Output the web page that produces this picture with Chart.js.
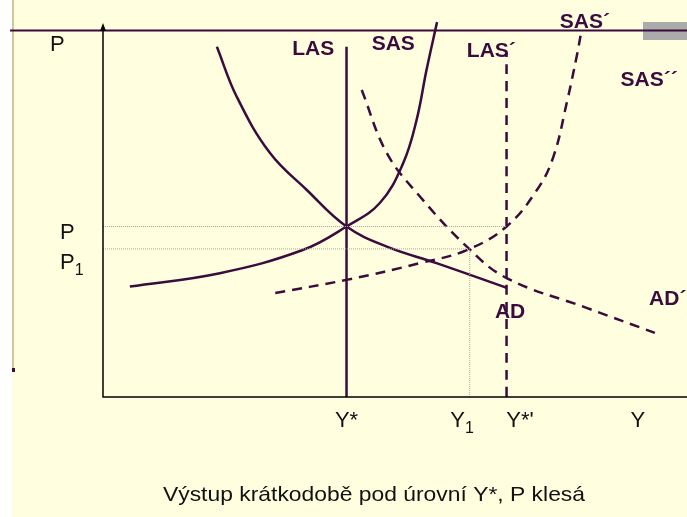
<!DOCTYPE html>
<html>
<head>
<meta charset="utf-8">
<script src="https://cdn.jsdelivr.net/npm/chart.js@4.4.1/dist/chart.umd.min.js"></script>
<style>
  html, body { margin: 0; padding: 0; background: #ffffff; }
  canvas { display: block; }
</style>
</head>
<body>
<canvas id="adasChart" width="687" height="517"></canvas>
<script>
// curves in arbitrary units (output Y on x, price level P on y, both 0..100)
const sasX = [4.6, 20.0, 34.2, 41.7, 47.4, 51.4, 53.7, 55.4, 57.2];
const sasP = [29.6, 33.2, 39.4, 45.7, 52.0, 62.7, 74.3, 87.7, 100.5];
const adX = [19.5, 22.9, 28.6, 34.9, 41.7, 48.6, 57.1, 69.1];
const adP = [93.9, 80.5, 65.4, 55.5, 45.7, 40.3, 35.9, 29.3];
const sas2X = [29.5, 41.7, 54.3, 62.3, 69.1, 74.3, 77.1, 79.4, 81.1, 81.8];
const sas2P = [27.9, 31.4, 35.9, 39.4, 45.7, 55.5, 64.3, 78.8, 91.2, 97.1];
const ad2X = [44.3, 48.6, 54.3, 62.3, 69.1, 82.8, 94.5];
const ad2P = [82.3, 65.4, 53.7, 40.3, 31.9, 23.9, 17.2];

const yStar = 41.7;      // LAS
const yStar2 = 69.1;     // LAS´
const y1 = 62.8;
const pLevel = 45.7;
const p1Level = 39.7;
const lasTop = 93.9;
const las2Top = 92.2;

const xTickLabels = ['Y*', 'Y_1', "Y*'", 'Y'];
const xTickValues = [41.7, 61.5, 71.4, 91.6];
const yTickLabels = ['P', 'P_1', 'P'];
const yTickValues = [44.5, 36.5, 94.9];

const curveNames = ['LAS', 'SAS', 'LAS´', 'SAS´', 'SAS´´', 'AD', 'AD´'];
const curveNameX = [36.0, 49.7, 66.5, 82.5, 93.5, 69.7, 96.7];
const curveNameY = [93.6, 94.9, 93.0, 100.8, 85.3, 22.9, 26.5];

const ink = '#3a0b3c';
const toPts = (xs, ys) => xs.map((x, i) => ({ x: x, y: ys[i] }));

const decor = {
  id: 'decor',
  beforeDraw(chart) {
    const c = chart.ctx;
    c.save();
    c.fillStyle = '#ffffff';
    c.fillRect(0, 0, 687, 517);
    c.fillStyle = '#ffffe0';
    c.fillRect(12, 0, 675, 517);
    // left tan rule
    c.fillStyle = '#cfc89a';
    c.fillRect(12, 0, 2, 370);
    c.fillStyle = ink;
    c.fillRect(12, 368, 3, 4);
    // grey box top right
    c.fillStyle = '#ababab';
    c.fillRect(643, 22, 44, 18);
    // title rule
    c.strokeStyle = ink;
    c.lineWidth = 2;
    c.beginPath();
    c.moveTo(10, 30.5);
    c.lineTo(687, 30.5);
    c.stroke();
    c.restore();
  },
  afterDraw(chart) {
    const c = chart.ctx;
    const xs = chart.scales.x, ys = chart.scales.y;
    const a = chart.chartArea;
    c.save();
    // axes
    c.strokeStyle = '#000000';
    c.lineWidth = 1.5;
    c.beginPath();
    c.moveTo(a.left, a.top + 4);
    c.lineTo(a.left, a.bottom);
    c.lineTo(a.right, a.bottom);
    c.stroke();
    c.fillStyle = '#000000';
    c.beginPath();
    c.moveTo(a.left, a.top - 1);
    c.lineTo(a.left - 3, a.top + 7);
    c.lineTo(a.left + 3, a.top + 7);
    c.closePath();
    c.fill();

    // tick labels (with subscripts)
    const drawSub = (text, x, y, align) => {
      const parts = text.split('_');
      c.font = '22px "Liberation Sans", Arial, sans-serif';
      const w0 = c.measureText(parts[0]).width;
      c.font = '16px "Liberation Sans", Arial, sans-serif';
      const w1 = parts[1] ? c.measureText(parts[1]).width : 0;
      let left = x;
      if (align === 'center') left = x - (w0 + w1) / 2;
      c.textAlign = 'left';
      c.textBaseline = 'alphabetic';
      c.font = '22px "Liberation Sans", Arial, sans-serif';
      c.fillText(parts[0], left, y);
      if (parts[1]) {
        c.font = '16px "Liberation Sans", Arial, sans-serif';
        c.fillText(parts[1], left + w0, y + 6);
      }
    };
    c.fillStyle = '#111111';
    xTickLabels.forEach((t, i) => {
      drawSub(t, xs.getPixelForValue(xTickValues[i]), a.bottom + 30, 'center');
    });
    yTickLabels.forEach((t, i) => {
      const px = i === 2 ? a.left - 53 : a.left - 43;
      drawSub(t, px, ys.getPixelForValue(yTickValues[i]) + 8, 'left');
    });

    // curve names
    c.fillStyle = ink;
    c.font = 'bold 21px "Liberation Sans", Arial, sans-serif';
    c.textAlign = 'center';
    c.textBaseline = 'middle';
    curveNames.forEach((t, i) => {
      c.fillText(t, xs.getPixelForValue(curveNameX[i]), ys.getPixelForValue(curveNameY[i]) + 1);
    });

    // caption, stretched a little like the original slide text
    const caption = 'Výstup krátkodobě pod úrovní Y*, P klesá';
    c.fillStyle = '#111111';
    c.font = '21px "Liberation Sans", Arial, sans-serif';
    c.textAlign = 'center';
    c.textBaseline = 'alphabetic';
    const sx = 422 / c.measureText(caption).width;
    c.translate(374, 501);
    c.scale(sx, 1);
    c.fillText(caption, 0, 0);
    c.restore();
  }
};

const solid = (data) => ({
  data: data, showLine: true, borderColor: ink, borderWidth: 2.5,
  pointRadius: 0, tension: 0.4, clip: false, fill: false
});
const dashed = (data) => Object.assign(solid(data), { borderDash: [10, 7] });
const dotted = (data) => ({
  data: data, showLine: true, borderColor: '#a8a898', borderWidth: 1,
  borderDash: [1, 1], pointRadius: 0, tension: 0, clip: false, fill: false
});

new Chart(document.getElementById('adasChart').getContext('2d'), {
  type: 'scatter',
  data: {
    datasets: [
      dotted([{ x: 0, y: pLevel }, { x: yStar2, y: pLevel }]),
      dotted([{ x: 0, y: p1Level }, { x: y1, y: p1Level }]),
      dotted([{ x: y1, y: 0 }, { x: y1, y: p1Level }]),
      solid(toPts(sasX, sasP)),
      solid(toPts(adX, adP)),
      solid([{ x: yStar, y: 0 }, { x: yStar, y: lasTop }]),
      dashed([{ x: yStar2, y: 0 }, { x: yStar2, y: las2Top }]),
      dashed(toPts(sas2X, sas2P)),
      dashed(toPts(ad2X, ad2P))
    ]
  },
  options: {
    responsive: false,
    animation: false,
    layout: { padding: { left: 103, right: 0, top: 24, bottom: 120 } },
    plugins: { legend: { display: false }, tooltip: { enabled: false } },
    scales: {
      x: { type: 'linear', min: 0, max: 100, display: false },
      y: { type: 'linear', min: 0, max: 100, display: false }
    }
  },
  plugins: [decor]
});
</script>
</body>
</html>
